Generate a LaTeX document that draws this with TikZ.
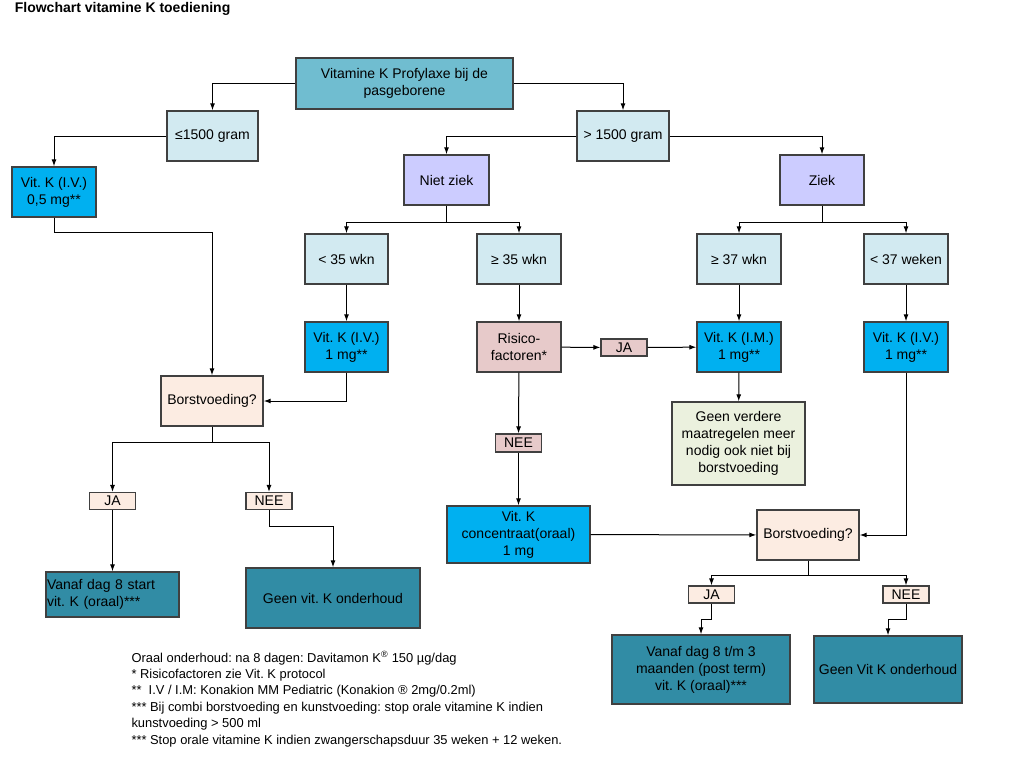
\documentclass[tikz,border=0pt]{standalone}
\usepackage{fontspec}
\setmainfont{Liberation Sans}
\usetikzlibrary{arrows.meta}
\frenchspacing

\definecolor{topcol}{RGB}{112,189,208}
\definecolor{lightcol}{RGB}{210,234,241}
\definecolor{bluecol}{RGB}{0,176,240}
\definecolor{lavcol}{RGB}{204,204,255}
\definecolor{pinkcol}{RGB}{231,202,202}
\definecolor{peachcol}{RGB}{252,236,226}
\definecolor{greencol}{RGB}{235,241,222}
\definecolor{tealcol}{RGB}{49,140,165}

\begin{document}
\begin{tikzpicture}[x=1pt, y=-1pt, >={Latex[length=7pt,width=5pt]}, line width=1pt,
    box/.style={draw=black!75, line width=1.4pt, rectangle, align=center, inner sep=1pt,
        font=\fontsize{14}{17}\selectfont},
    tag/.style={draw=black!75, line width=1.2pt, rectangle, fill=peachcol, inner sep=0pt,
        minimum width=46pt, minimum height=17pt, font=\fontsize{14}{15}\selectfont}]

    \useasboundingbox (0,0) rectangle (1024,776);

    \node[anchor=west, font=\fontsize{14}{16}\selectfont\bfseries] (title) at (11,8.5) {Flowchart vitamine K toediening};

    % eerste niveau
    \node[box, fill=topcol, minimum width=217pt, minimum height=51pt] (top) at (404.5,83.5) {Vitamine K Profylaxe bij de\\pasgeborene};
    \node[box, fill=lightcol, minimum width=91pt, minimum height=50pt] (le) at (212.5,136) {≤1500 gram};
    \node[box, fill=lightcol, minimum width=92pt, minimum height=50pt] (gt) at (623,136) {> 1500 gram};

    \node[box, fill=bluecol, minimum width=84pt, minimum height=50pt] (v05) at (54,192) {Vit. K (I.V.)\\0,5 mg**};
    \node[box, fill=lavcol, minimum width=85pt, minimum height=50pt] (nz) at (446.5,180) {Niet ziek};
    \node[box, fill=lavcol, minimum width=84pt, minimum height=50pt] (zk) at (822,180) {Ziek};

    \node[box, fill=lightcol, minimum width=83pt, minimum height=50pt] (l35) at (346.5,259) {< 35 wkn};
    \node[box, fill=lightcol, minimum width=84pt, minimum height=50pt] (g35) at (519,259) {≥ 35 wkn};
    \node[box, fill=lightcol, minimum width=84pt, minimum height=50pt] (g37) at (739,259) {≥ 37 wkn};
    \node[box, fill=lightcol, minimum width=84pt, minimum height=50pt] (l37) at (906,259) {< 37 weken};

    \node[box, fill=bluecol, minimum width=83pt, minimum height=50pt] (vk1l) at (346.5,347) {Vit. K (I.V.)\\1 mg**};
    \node[box, fill=pinkcol, minimum width=84pt, minimum height=50pt] (risk) at (519,347) {Risico-\\factoren*};
    \node[tag, fill=pinkcol] (jam) at (624,347.5) {JA};
    \node[box, fill=bluecol, minimum width=84pt, minimum height=50pt] (vkim) at (739,347) {Vit. K (I.M.)\\1 mg**};
    \node[box, fill=bluecol, minimum width=84pt, minimum height=50pt] (vk1r) at (906,347) {Vit. K (I.V.)\\1 mg**};

    \node[box, fill=peachcol, minimum width=102pt, minimum height=50pt] (bv1) at (212,401) {Borstvoeding?};
    \node[box, fill=greencol, minimum width=133pt, minimum height=83pt] (geen) at (738.5,443.5) {Geen verdere\\maatregelen meer\\nodig ook niet bij\\borstvoeding};
    \node[tag, fill=pinkcol, minimum height=18pt] (neem) at (518.5,443) {NEE};

    \node[tag] (ja1) at (112.5,501) {JA};
    \node[tag] (nee1) at (269,501) {NEE};
    \node[box, fill=bluecol, minimum width=143pt, minimum height=57pt] (conc) at (518.5,534.5) {Vit. K\\concentraat(oraal)\\1 mg};
    \node[box, fill=peachcol, minimum width=102pt, minimum height=50pt] (bv2) at (808,535) {Borstvoeding?};

    % onderhoud
    \node[box, fill=tealcol, minimum width=133pt, minimum height=45pt, text width=131pt, align=left] (vd8) at (112.5,594.5) {Vanaf dag 8 start\\vit. K (oraal)***};
    \node[box, fill=tealcol, minimum width=174pt, minimum height=60pt] (gv1) at (333,598) {Geen vit. K onderhoud};
    \node[tag] (ja2) at (711.5,594.5) {JA};
    \node[tag] (nee2) at (906,594.5) {NEE};
    \node[box, fill=tealcol, minimum width=178pt, minimum height=69pt] (vd3) at (701,669.5) {Vanaf dag 8 t/m 3\\maanden (post term)\\vit. K (oraal)***};
    \node[box, fill=tealcol, minimum width=148pt, minimum height=67pt] (gv2) at (888,669.5) {Geen Vit K onderhoud};

    % voetnoten
    \node[anchor=north west, align=left, inner sep=0pt, font=\fontsize{12.9}{16.4}\selectfont] (noot) at (131,651)
        {Oraal onderhoud: na 8 dagen: Davitamon K\textsuperscript{®} 150 µg/dag\\
         * Risicofactoren zie Vit. K protocol\\
         **\ \ I.V / I.M: Konakion MM Pediatric (Konakion ® 2mg/0.2ml)\\
         *** Bij combi borstvoeding en kunstvoeding: stop orale vitamine K indien\\
         kunstvoeding > 500 ml\\
         *** Stop orale vitamine K indien zwangerschapsduur 35 weken + 12 weken.};

    % verbindingen
    \draw[->] (top.west) -| (le.north);
    \draw[->] (top.east) -| (gt.north);
    \draw[->] (le.west) -| (v05.north);
    \draw[->] (gt.west) -| (nz.north);
    \draw[->] (gt.east) -| (zk.north);
    \draw[->] (v05.south) -- ++(0,15) -| (bv1.north);

    \draw (nz.south) -- ++(0,17) coordinate (nzs);
    \draw[->] (nzs) -| (l35.north);
    \draw[->] (nzs) -| (g35.north);
    \draw (zk.south) -- ++(0,17) coordinate (zks);
    \draw[->] (zks) -| (g37.north);
    \draw[->] (zks) -| (l37.north);

    \draw[->] (l35) -- (vk1l);
    \draw[->] (g35) -- (risk);
    \draw[->] (g37) -- (vkim);
    \draw[->] (l37) -- (vk1r);
    \draw[->] (vk1l.south) |- (bv1.east);
    \draw[->] (risk) -- (jam);
    \draw[->] (jam) -- (vkim);
    \draw[->] (vkim) -- (geen);
    \draw[->] (risk) -- (neem);
    \draw[->] (neem) -- (conc);
    \draw[->] (conc) -- (bv2);
    \draw[->] (vk1r.south) |- (bv2.east);

    \draw (bv1.south) -- ++(0,16) coordinate (bv1s);
    \draw[->] (bv1s) -| (ja1.north);
    \draw[->] (bv1s) -| (nee1.north);
    \draw[->] (ja1) -- (vd8);
    \draw[->] (nee1.south) -- ++(0,16) -| (gv1.north);

    \draw (bv2.south) -- ++(0,15) coordinate (bv2s);
    \draw[->] (bv2s) -| (ja2.north);
    \draw[->] (bv2s) -| (nee2.north);
    \draw[->] (ja2.south) -- ++(0,16) -| (vd3.north);
    \draw[->] (nee2.south) -- ++(0,16) -| (gv2.north);
\end{tikzpicture}
\end{document}
